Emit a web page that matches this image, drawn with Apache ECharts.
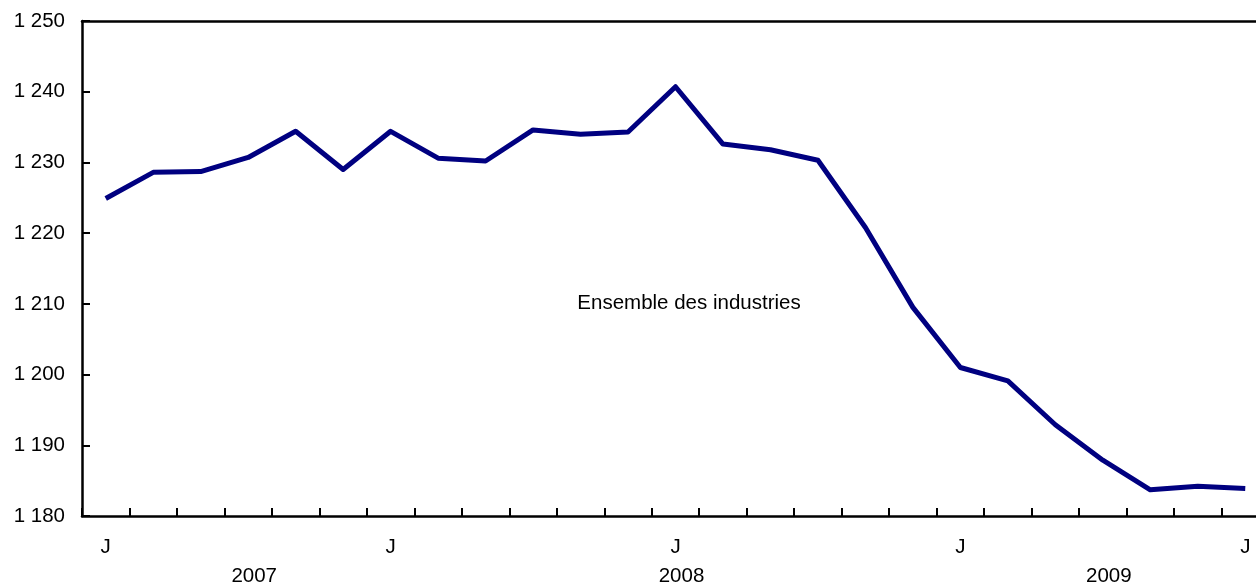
<!DOCTYPE html>
<html>
<head>
<meta charset="utf-8">
<script src="https://cdn.jsdelivr.net/npm/echarts@6/dist/echarts.min.js"></script>
<style>
html,body{margin:0;padding:0;background:#fff;}
#chart{width:1256px;height:586px;}
</style>
</head>
<body>
<div id="chart"></div>
<script>
// Months from January 2007 to January 2009
const months = ['2007-01','2007-02','2007-03','2007-04','2007-05','2007-06','2007-07','2007-08','2007-09','2007-10','2007-11','2007-12',
                '2008-01','2008-02','2008-03','2008-04','2008-05','2008-06','2008-07','2008-08','2008-09','2008-10','2008-11','2008-12',
                '2009-01'];
// Labels shown under the axis (January and July)
const monthLetters = {'01':'J','07':'J'};
// Year labels and the month index they sit under
const yearNames = ['2007','2008','2009'];
const yearAt = [3, 12, 21];
// Series: Ensemble des industries
const seriesName = 'Ensemble des industries';
const values = [1224.9,1228.6,1228.7,1230.7,1234.4,1229.0,1234.4,1230.6,1230.2,1234.6,1234.0,1234.3,
                1240.7,1232.6,1231.8,1230.3,1220.8,1209.5,1201.0,1199.1,1192.9,1187.9,1183.7,1184.2,1183.9];

const FONT = 'Liberation Sans, Arial, sans-serif';
const FS = 20.5;
const chart = echarts.init(document.getElementById('chart'), null, {renderer:'canvas'});
chart.setOption({
  animation:false,
  backgroundColor:'#fff',
  grid:{left:82, right:-13, top:21, bottom:70, outerBoundsMode:'none'},
  xAxis:[
    {
      type:'category', data:months, boundaryGap:true, position:'bottom',
      axisLine:{show:true, lineStyle:{color:'#000', width:2.5}},
      axisTick:{show:true, inside:true, length:8, interval:0, lineStyle:{color:'#000', width:2}},
      axisLabel:{interval:0, margin:21, color:'#000', fontFamily:FONT, fontSize:FS,
        formatter:(v)=> monthLetters[v.slice(5)] || ''},
      splitLine:{show:false}
    },
    {
      type:'category', data:months, boundaryGap:true, position:'bottom',
      axisLine:{show:false}, axisTick:{show:false},
      axisLabel:{interval:0, margin:50, color:'#000', fontFamily:FONT, fontSize:FS, padding:[0,0,0,12],
        formatter:(v,i)=>{ const k = yearAt.indexOf(i); return k>=0 ? yearNames[k] : ''; }},
      splitLine:{show:false}
    },
    {
      type:'category', data:months, boundaryGap:true, position:'top',
      axisLine:{show:true, lineStyle:{color:'#000', width:2.5}},
      axisTick:{show:false}, axisLabel:{show:false}, splitLine:{show:false}
    }
  ],
  yAxis:{
    type:'value', min:1180, max:1250, interval:10,
    axisLine:{show:true, lineStyle:{color:'#000', width:2.5}},
    axisTick:{show:true, inside:true, length:8, lineStyle:{color:'#000', width:2}},
    axisLabel:{margin:17, color:'#000', fontFamily:FONT, fontSize:FS,
      formatter:(v)=>{ const s=String(v); return s.length>3 ? s.slice(0,s.length-3)+' '+s.slice(-3) : s; }},
    splitLine:{show:false}
  },
  graphic:[{
    type:'text', x:689, y:303,
    style:{text:seriesName, fill:'#000', font:FS+'px '+FONT, textAlign:'center', textVerticalAlign:'middle'}
  }],
  series:[{
    name:seriesName, type:'line', data:values, xAxisIndex:0,
    symbol:'none', smooth:false,
    lineStyle:{color:'#000080', width:5, join:'round'}
  }]
});
</script>
</body>
</html>
